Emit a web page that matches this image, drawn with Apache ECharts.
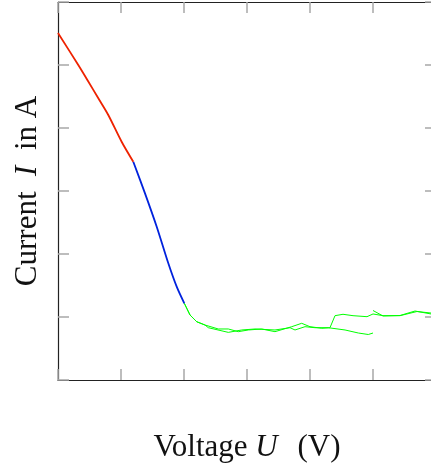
<!DOCTYPE html>
<html>
<head>
<meta charset="utf-8">
<script src="https://cdn.jsdelivr.net/npm/echarts@6/dist/echarts.min.js"></script>
<style>html,body{margin:0;padding:0;background:#fff}#c{width:431px;height:468px}</style>
</head>
<body>
<div id="c"></div>
<script>
// axis ranges (arbitrary units, one unit per tick)
const xMin = 0, xMax = 6, yMin = 0, yMax = 6;

// red segment (high current region)
const redX = [0, 0.322, 0.476, 0.64, 0.798, 1.01, 1.195];
const redY = [5.508, 5.0, 4.746, 4.471, 4.206, 3.782, 3.465];

// blue segment (steep decline)
const blueX = [1.195, 1.381, 1.567, 1.751, 1.884, 2.005];
const blueY = [3.465, 2.963, 2.433, 1.852, 1.481, 1.217];

// green trace A (plateau, then jump up)
const greenAX = [2.005, 2.095, 2.202, 2.333, 2.544, 2.703, 2.862, 3.021, 3.233, 3.444, 3.710, 3.868, 4.0, 4.186, 4.317, 4.397, 4.524, 4.683, 4.905, 5.0, 5.159, 5.429, 5.698, 5.921, 6.0];
const greenAY = [1.217, 1.032, 0.925, 0.873, 0.810, 0.810, 0.767, 0.794, 0.810, 0.767, 0.846, 0.900, 0.846, 0.821, 0.830, 1.021, 1.043, 1.021, 1.005, 1.048, 1.021, 1.021, 1.087, 1.063, 1.063];

// green trace B (plateau, ends at 5)
const greenBX = [2.005, 2.095, 2.202, 2.333, 2.386, 2.703, 2.916, 3.127, 3.444, 3.683, 3.762, 3.921, 4.079, 4.290, 4.556, 4.767, 4.925, 5.0];
const greenBY = [1.217, 1.032, 0.925, 0.873, 0.830, 0.756, 0.794, 0.810, 0.794, 0.830, 0.794, 0.846, 0.830, 0.830, 0.794, 0.746, 0.722, 0.746];

// green trace C (upper level, from 5 onwards)
const greenCX = [5.0, 5.159, 5.429, 5.667, 5.921, 6.0];
const greenCY = [1.103, 1.016, 1.024, 1.095, 1.048, 1.05];

const zip = (xs, ys) => xs.map((x, i) => [x, ys[i]]);

const tickStyle = { show: true, inside: true, length: 11, lineStyle: { color: '#a8a8a8', width: 1.5 } };
const lineStyleAxis = { show: true, onZero: false, lineStyle: { color: '#222', width: 1.2 } };
const font = '"Liberation Serif", "DejaVu Serif", serif';
const rich = (fs) => ({
  a: { fontFamily: font, fontSize: fs, color: '#111' },
  i: { fontFamily: font, fontSize: fs, fontStyle: 'italic', color: '#111' },
  s: { fontFamily: font, fontSize: fs, width: 12 }
});

function xA(pos, named) {
  return {
    type: 'value', position: pos, min: xMin, max: xMax, interval: 1,
    axisLine: lineStyleAxis, axisTick: tickStyle, axisLabel: { show: false }, splitLine: { show: false },
    name: named ? '{a|Voltage }{i|U}{s|}{a| (V)}' : '', nameLocation: 'middle', nameGap: 52,
    nameTextStyle: { rich: rich(31) }
  };
}
function yA(pos, named) {
  return {
    type: 'value', position: pos, min: yMin, max: yMax, interval: 1,
    axisLine: lineStyleAxis, axisTick: tickStyle, axisLabel: { show: false }, splitLine: { show: false },
    name: named ? '{a|Current  }{i|I}{a|  in A}' : '', nameLocation: 'middle', nameGap: 15,
    nameTextStyle: { rich: rich(31) }
  };
}

const chart = echarts.init(document.getElementById('c'), null, { renderer: 'canvas' });
const mk = (data, color, w, sm) => ({ type: 'line', data, showSymbol: false, symbol: 'none', smooth: sm, lineStyle: { color, width: w }, itemStyle: { color }, animation: false, xAxisIndex: 0, yAxisIndex: 0 });
chart.setOption({
  animation: false,
  grid: { left: 58, top: 2, width: 378, height: 378, containLabel: false, outerBoundsMode: 'none' },
  xAxis: [xA('bottom', true), xA('top', false)],
  yAxis: [yA('left', true), yA('right', false)],
  series: [
    mk(zip(greenAX, greenAY), '#00ff00', 1, false),
    mk(zip(greenBX, greenBY), '#00ff00', 1, false),
    mk(zip(greenCX, greenCY), '#00ff00', 1, false),
    mk(zip(blueX, blueY), '#0022dd', 1.8, 0.3),
    mk(zip(redX, redY), '#ee2200', 1.8, 0.3)
  ]
});
</script>
</body>
</html>
